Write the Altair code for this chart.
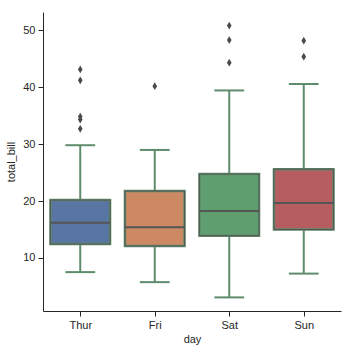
import altair as alt
import pandas as pd

days = ["Thur", "Fri", "Sat", "Sun"]
q1 = [12.44, 12.10, 13.91, 14.99]
median = [16.20, 15.38, 18.24, 19.63]
q3 = [20.16, 21.75, 24.74, 25.60]
whisk_lo = [7.51, 5.75, 3.07, 7.25]
whisk_hi = [29.80, 28.97, 39.42, 40.55]
box_colors = ["#5875a4", "#cc8963", "#5f9e6e", "#b55d60"]

out_day = ["Thur", "Thur", "Thur", "Thur", "Thur", "Fri", "Sat", "Sat", "Sat", "Sun", "Sun"]
out_val = [32.68, 34.30, 34.83, 41.19, 43.11, 40.17, 44.30, 48.27, 50.81, 45.35, 48.17]

idx = {d: i for i, d in enumerate(days)}
boxes = pd.DataFrame({
    "day": days, "q1": q1, "median": median, "q3": q3,
    "lo": whisk_lo, "hi": whisk_hi, "color": box_colors,
})
boxes["i"] = [idx[d] for d in days]
boxes["bl"] = boxes["i"] - 0.4
boxes["br"] = boxes["i"] + 0.4
boxes["cl"] = boxes["i"] - 0.2
boxes["cr"] = boxes["i"] + 0.2
outl = pd.DataFrame({"day": out_day, "v": out_val})
outl["i"] = [idx[d] for d in out_day]

FONT = "Liberation Sans"
TXT = "#262626"
LINE = "#5f8c6c"
GREY = "#555555"

xs = alt.Scale(domain=[-0.5, 3.5], nice=False, zero=False)
ys = alt.Scale(domain=[0.68, 53.2], nice=False, zero=False)

xaxis = alt.Axis(values=[0, 1, 2, 3], labelExpr="['Thur','Fri','Sat','Sun'][datum.value]",
                 title="day", grid=False, domainColor=TXT, tickColor=TXT, labelColor=TXT,
                 titleColor=TXT, labelFont=FONT, titleFont=FONT, labelFontSize=11,
                 titleFontSize=11, titleFontWeight="normal", tickSize=5, labelPadding=3,
                 titlePadding=3)
yaxis = alt.Axis(values=[10, 20, 30, 40, 50], title="total_bill", grid=False, domainColor=TXT,
                 tickColor=TXT, labelColor=TXT, titleColor=TXT, labelFont=FONT, titleFont=FONT,
                 labelFontSize=11, titleFontSize=11, titleFontWeight="normal", tickSize=5,
                 labelPadding=3, titlePadding=6)

base = alt.Chart(boxes)

whisk_lo_rule = base.mark_rule(color=LINE, strokeWidth=2).encode(
    x=alt.X("i:Q", scale=xs, axis=xaxis), y=alt.Y("lo:Q", scale=ys, axis=yaxis), y2="q1:Q")
whisk_hi_rule = base.mark_rule(color=LINE, strokeWidth=2).encode(
    x=alt.X("i:Q", scale=xs), y=alt.Y("q3:Q", scale=ys), y2="hi:Q")
cap_lo = base.mark_rule(color=LINE, strokeWidth=2).encode(
    x=alt.X("cl:Q", scale=xs), x2="cr:Q", y=alt.Y("lo:Q", scale=ys))
cap_hi = base.mark_rule(color=LINE, strokeWidth=2).encode(
    x=alt.X("cl:Q", scale=xs), x2="cr:Q", y=alt.Y("hi:Q", scale=ys))
box = base.mark_rect(stroke=LINE, strokeWidth=2.5).encode(
    x=alt.X("bl:Q", scale=xs), x2="br:Q", y=alt.Y("q1:Q", scale=ys), y2="q3:Q",
    fill=alt.Fill("color:N", scale=None))
box_inner = base.mark_rect(fill=None, stroke=GREY, strokeWidth=1).encode(
    x=alt.X("bl:Q", scale=xs), x2="br:Q", y=alt.Y("q1:Q", scale=ys), y2="q3:Q")
med = base.mark_rule(color=GREY, strokeWidth=2).encode(
    x=alt.X("bl:Q", scale=xs), x2="br:Q", y=alt.Y("median:Q", scale=ys))
pts = alt.Chart(outl).mark_point(
    shape="M0,-1L0.6,0L0,1L-0.6,0Z", filled=True, color="#4a4a4a", size=60, opacity=1
).encode(x=alt.X("i:Q", scale=xs), y=alt.Y("v:Q", scale=ys))

chart = alt.layer(whisk_lo_rule, whisk_hi_rule, cap_lo, cap_hi, box, box_inner, med, pts).properties(
    width=298, height=299,
    autosize=alt.AutoSizeParams(type="none"),
    padding={"left": 43, "top": 12, "right": 11, "bottom": 41},
    background="white",
).configure_view(stroke=None)

chart.save("out.html", embed_options={"renderer": "svg", "actions": False})
